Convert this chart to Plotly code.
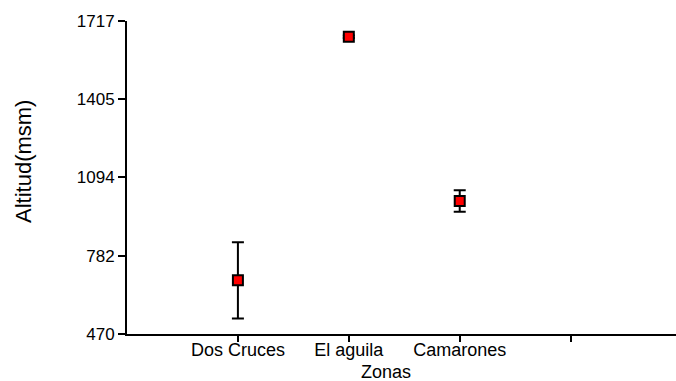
import plotly.graph_objects as go

# Mean altitude per zone with error bars
zonas = ["Dos Cruces", "El aguila", "Camarones"]
posiciones = [1, 2, 3]
altitud = [684, 1654, 1000]
error = [152, 5, 43]
y_ticks = [470, 782, 1094, 1405, 1717]

fig = go.Figure()
fig.add_trace(go.Scatter(
    x=posiciones, y=altitud, mode="markers",
    marker=dict(symbol="square", size=10, color="#ff0000",
                line=dict(color="black", width=2)),
    error_y=dict(type="data", array=error, visible=True,
                 color="black", thickness=2, width=6),
    showlegend=False,
))

fig.update_layout(
    width=676, height=381,
    margin=dict(l=127, r=0, t=21, b=47),
    plot_bgcolor="white", paper_bgcolor="white",
    font=dict(family="Liberation Sans, Arial, sans-serif", color="black"),
)
fig.update_xaxes(
    range=[0, 4.95], tickmode="array",
    tickvals=[1, 2, 3, 4], ticktext=zonas + [""],
    ticks="outside", ticklen=6, tickwidth=2, tickcolor="black",
    ticklabelstandoff=-8,
    showline=True, linecolor="black", linewidth=2,
    showgrid=False, zeroline=False,
    tickfont=dict(size=18),
)
fig.update_yaxes(
    range=[470, 1717], tickmode="array", tickvals=y_ticks,
    ticks="outside", ticklen=7, tickwidth=2, tickcolor="black",
    showline=True, linecolor="black", linewidth=2,
    showgrid=False, zeroline=False,
    tickfont=dict(size=17),
)

fig.add_annotation(
    text="Zonas", xref="paper", yref="paper",
    x=(386 - 127) / 549, y=-(372 - 334) / 313,
    showarrow=False, font=dict(size=18), xanchor="center", yanchor="middle",
)
fig.add_annotation(
    text="Altitud(msm)", xref="paper", yref="paper",
    x=-(127 - 23) / 549, y=(334 - 162) / 313, textangle=-90,
    showarrow=False,
    font=dict(size=22, family="Liberation Sans Narrow, Arial Narrow, Liberation Sans"),
    xanchor="center", yanchor="middle",
)

fig.write_html("out.html")
